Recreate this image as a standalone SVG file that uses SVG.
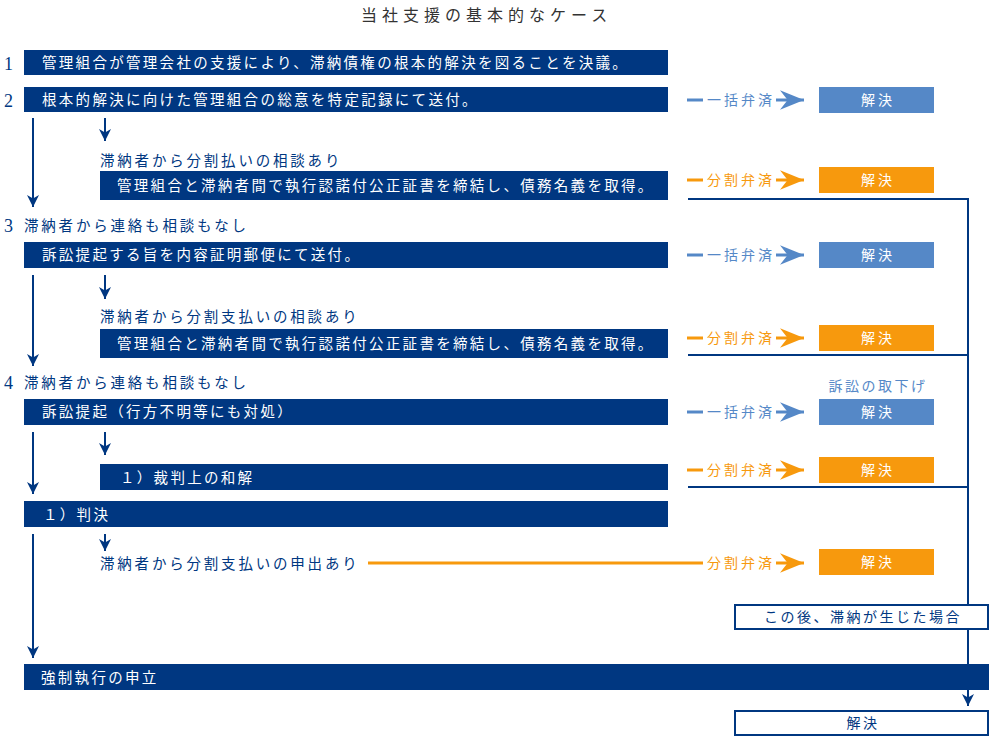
<svg xmlns="http://www.w3.org/2000/svg" width="989" height="736" viewBox="0 0 989 736">
<style>
text{font-family:"Noto Sans CJK JP","Noto Sans",sans-serif;}
.title{font-size:16px;fill:#333;letter-spacing:5px;}
.num{font-size:18px;fill:#003781;font-family:"Liberation Serif",serif;}
.bar{fill:#003781;}
.wt{font-size:14.5px;fill:#fff;letter-spacing:2.3px;}
.nt{font-size:14.5px;fill:#003781;letter-spacing:2.8px;}
.bt{font-size:14px;fill:#5588c7;letter-spacing:3px;}
.ot{font-size:14px;fill:#f7990d;letter-spacing:3px;}
.bbox{fill:#5588c7;}
.obox{fill:#f7990d;}
.ct{font-size:14px;fill:#fff;letter-spacing:3px;text-anchor:middle;}
.wbox{fill:#fff;stroke:#003781;stroke-width:2;}
.bx{font-size:14px;fill:#003781;letter-spacing:2.5px;text-anchor:middle;}
.nv{stroke:#003781;stroke-width:2;fill:none;}
.bl{stroke:#5588c7;stroke-width:3;fill:none;}
.ol{stroke:#f7990d;stroke-width:3;fill:none;}
</style>
<defs>
<marker id="an" markerUnits="userSpaceOnUse" markerWidth="12" markerHeight="12" refX="10" refY="5" orient="auto" viewBox="0 0 10 10">
<path d="M0,0 L10,5 L0,10 L3,5 z" fill="#003781"/>
</marker>
<marker id="ab" markerUnits="userSpaceOnUse" markerWidth="24" markerHeight="20" refX="22" refY="9" orient="auto" viewBox="0 0 22 18">
<path d="M0,0 L22,9 L0,18 L7,9 z" fill="#5588c7"/>
</marker>
<marker id="ao" markerUnits="userSpaceOnUse" markerWidth="24" markerHeight="20" refX="22" refY="9" orient="auto" viewBox="0 0 22 18">
<path d="M0,0 L22,9 L0,18 L7,9 z" fill="#f7990d"/>
</marker>
</defs>

<text class="title" x="361" y="21">当社支援の基本的なケース</text>

<g id="connectors">
<line class="nv" x1="33" y1="118" x2="33" y2="207" marker-end="url(#an)"/>
<line class="nv" x1="105" y1="118" x2="105" y2="141" marker-end="url(#an)"/>
<line class="nv" x1="33" y1="275" x2="33" y2="366" marker-end="url(#an)"/>
<line class="nv" x1="105" y1="275" x2="105" y2="299" marker-end="url(#an)"/>
<line class="nv" x1="33" y1="432" x2="33" y2="494" marker-end="url(#an)"/>
<line class="nv" x1="105" y1="432" x2="105" y2="455" marker-end="url(#an)"/>
<line class="nv" x1="33" y1="534" x2="33" y2="658" marker-end="url(#an)"/>
<line class="nv" x1="105" y1="534" x2="105" y2="551" marker-end="url(#an)"/>
<polyline class="nv" points="688,199 968,199"/>
<polyline class="nv" points="688,355 968,355"/>
<polyline class="nv" points="688,487 968,487"/>
<line class="nv" x1="968" y1="198" x2="968" y2="706" marker-end="url(#an)"/>
<line class="bl" x1="687" y1="100" x2="703" y2="100"/>
<line class="bl" x1="776" y1="100" x2="804" y2="100" marker-end="url(#ab)"/>
<line class="ol" x1="687" y1="180" x2="703" y2="180"/>
<line class="ol" x1="776" y1="180" x2="804" y2="180" marker-end="url(#ao)"/>
<line class="bl" x1="687" y1="255" x2="703" y2="255"/>
<line class="bl" x1="776" y1="255" x2="804" y2="255" marker-end="url(#ab)"/>
<line class="ol" x1="687" y1="338" x2="703" y2="338"/>
<line class="ol" x1="776" y1="338" x2="804" y2="338" marker-end="url(#ao)"/>
<line class="bl" x1="687" y1="412" x2="703" y2="412"/>
<line class="bl" x1="776" y1="412" x2="804" y2="412" marker-end="url(#ab)"/>
<line class="ol" x1="687" y1="470" x2="703" y2="470"/>
<line class="ol" x1="776" y1="470" x2="804" y2="470" marker-end="url(#ao)"/>
<line class="ol" x1="368" y1="563" x2="703" y2="563"/>
<line class="ol" x1="776" y1="563" x2="804" y2="563" marker-end="url(#ao)"/>
<text class="bt" x="707" y="105">一括弁済</text>
<text class="ot" x="707" y="185">分割弁済</text>
<text class="bt" x="707" y="260">一括弁済</text>
<text class="ot" x="707" y="343">分割弁済</text>
<text class="bt" x="707" y="417">一括弁済</text>
<text class="ot" x="707" y="475">分割弁済</text>
<text class="ot" x="707" y="568">分割弁済</text>
</g>

<g id="step1">
<text class="num" x="4" y="70">1</text>
<rect class="bar" x="24" y="50" width="644" height="25"/>
<text class="wt" x="42" y="68">管理組合が管理会社の支援により、滞納債権の根本的解決を図ることを決議。</text>
</g>
<g id="step2">
<text class="num" x="4" y="107">2</text>
<rect class="bar" x="24" y="87" width="644" height="25"/>
<text class="wt" x="42" y="105">根本的解決に向けた管理組合の総意を特定記録にて送付。</text>
</g>
<g id="step2a">
<text class="nt" x="100" y="166">滞納者から分割払いの相談あり</text>
<rect class="bar" x="100" y="171" width="568" height="29"/>
<text class="wt" x="117" y="191">管理組合と滞納者間で執行認諾付公正証書を締結し、債務名義を取得。</text>
</g>
<g id="step3">
<text class="num" x="4" y="232">3</text>
<text class="nt" x="24" y="231">滞納者から連絡も相談もなし</text>
<rect class="bar" x="24" y="242" width="644" height="26"/>
<text class="wt" x="42" y="260">訴訟提起する旨を内容証明郵便にて送付。</text>
</g>
<g id="step3a">
<text class="nt" x="100" y="322">滞納者から分割支払いの相談あり</text>
<rect class="bar" x="100" y="329" width="568" height="29"/>
<text class="wt" x="117" y="349">管理組合と滞納者間で執行認諾付公正証書を締結し、債務名義を取得。</text>
</g>
<g id="step4">
<text class="num" x="4" y="389">4</text>
<text class="nt" x="24" y="388">滞納者から連絡も相談もなし</text>
<rect class="bar" x="24" y="399" width="644" height="26"/>
<text class="wt" x="42" y="417">訴訟提起（行方不明等にも対処）</text>
</g>
<g id="step4a">
<rect class="bar" x="100" y="464" width="568" height="26"/>
<text class="wt" x="120" y="483">１）裁判上の和解</text>
</g>
<g id="step4b">
<rect class="bar" x="24" y="501" width="644" height="26"/>
<text class="wt" x="43" y="520">１）判決</text>
</g>
<g id="step4c">
<text class="nt" x="100" y="569">滞納者から分割支払いの申出あり</text>
</g>
<g id="enforce">
<rect class="bar" x="24" y="664" width="965" height="26"/>
<text class="wt" x="41" y="683">強制執行の申立</text>
</g>

<g id="res1"><rect class="bbox" x="819" y="87" width="115" height="26"/><text class="ct" x="878" y="105">解決</text></g>
<g id="res2"><rect class="obox" x="819" y="167" width="115" height="26"/><text class="ct" x="878" y="185">解決</text></g>
<g id="res3"><rect class="bbox" x="819" y="242" width="115" height="26"/><text class="ct" x="878" y="260">解決</text></g>
<g id="res4"><rect class="obox" x="819" y="325" width="115" height="26"/><text class="ct" x="878" y="343">解決</text></g>
<g id="res5">
<text class="bx" x="878" y="391" style="fill:#5588c7">訴訟の取下げ</text>
<rect class="bbox" x="819" y="399" width="115" height="26"/><text class="ct" x="878" y="417">解決</text></g>
<g id="res6"><rect class="obox" x="819" y="457" width="115" height="26"/><text class="ct" x="878" y="475">解決</text></g>
<g id="res7"><rect class="obox" x="819" y="549" width="115" height="26"/><text class="ct" x="878" y="567">解決</text></g>
<g id="after"><rect class="wbox" x="735" y="605" width="253" height="24"/><text class="bx" x="863" y="622">この後、滞納が生じた場合</text></g>
<g id="final"><rect class="wbox" x="735" y="711" width="253" height="24"/><text class="bx" x="863" y="728">解決</text></g>
</svg>
